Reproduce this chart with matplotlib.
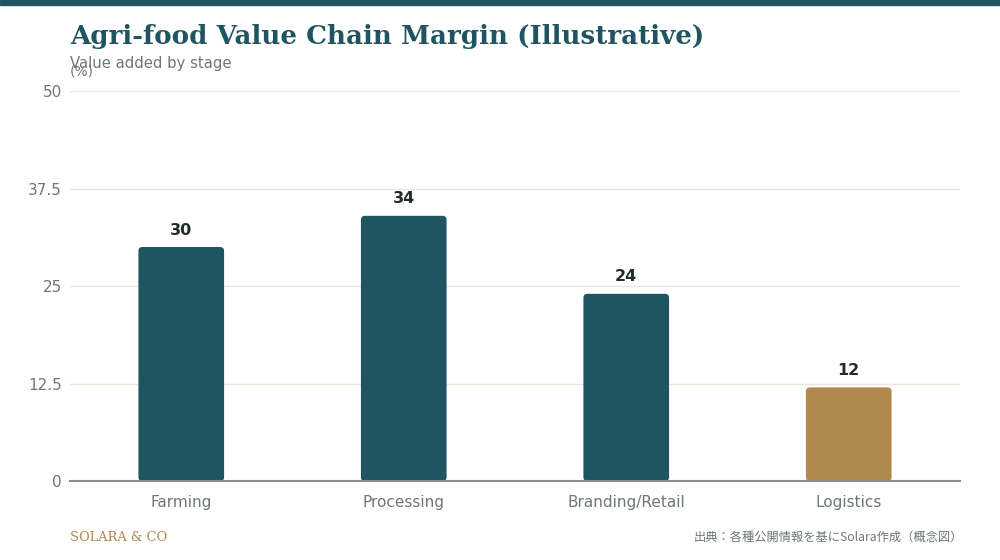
import matplotlib
matplotlib.use("Agg")
import matplotlib.pyplot as plt
from matplotlib.patches import FancyBboxPatch, Rectangle

# data
stages = ["Farming", "Processing", "Branding/Retail", "Logistics"]
margin = [30, 34, 24, 12]
bar_colors = ["#1f5561", "#1f5561", "#1f5561", "#b0894e"]
yticks = [0, 12.5, 25, 37.5, 50]
ytick_labels = ["0", "12.5", "25", "37.5", "50"]

plt.rcParams["font.family"] = ["DejaVu Sans"]

fig = plt.figure(figsize=(10, 5.6), dpi=100)
ax = fig.add_axes([0.07, 0.141, 0.89, 0.6965])

# top band
fig.patches.append(Rectangle((0, 0.991), 1, 0.009, transform=fig.transFigure,
                             color="#1f5561", zorder=0))

xs = list(range(len(stages)))
width = 0.385
bars = ax.bar(xs, margin, width=width, color=bar_colors)

ax.set_xlim(-0.5, len(stages) - 0.5)
ax.set_ylim(0, 50)

# swap plain bars for rounded ones
x_per_px = (len(stages)) / 890.0
y_per_px = 50 / 390.0
for b in bars:
    x0, y0 = b.get_x(), b.get_y()
    w, h = b.get_width(), b.get_height()
    b.set_visible(False)
    p = FancyBboxPatch((x0, y0), w, h,
                       boxstyle="round,pad=0,rounding_size=%f" % (4 * x_per_px),
                       mutation_aspect=y_per_px / x_per_px,
                       facecolor=b.get_facecolor(), edgecolor="none", zorder=3)
    ax.add_patch(p)

for x, v in zip(xs, margin):
    ax.text(x, v + 1.2, str(v), ha="center", va="bottom", fontsize=11.5,
            fontweight="bold", color="#1f2d2a", zorder=4)

ax.set_yticks(yticks)
ax.set_yticklabels(ytick_labels)
ax.set_xticks(xs)
ax.set_xticklabels(stages)
ax.tick_params(axis="both", length=0, labelsize=11, colors="#6e7872")
ax.tick_params(axis="x", pad=10)
ax.tick_params(axis="y", pad=6)
ax.grid(axis="y", color="#ece6dc", linewidth=1)
ax.set_axisbelow(True)
for s in ["top", "right", "left"]:
    ax.spines[s].set_visible(False)
ax.spines["bottom"].set_color("#8a918a")
ax.spines["bottom"].set_linewidth(1.5)
ax.spines["bottom"].set_zorder(5)

fig.text(0.07, 0.935, "Agri-food Value Chain Margin (Illustrative)",
         family="DejaVu Serif", fontweight="bold", fontsize=18.8,
         color="#1f5561", ha="left", va="center")
fig.text(0.07, 0.887, "Value added by stage", fontsize=10.7, color="#6e7872",
         ha="left", va="center")
fig.text(0.07, 0.872, "(%)", fontsize=10, color="#6e7872", ha="left", va="center")

fig.text(0.07, 0.04, "SOLARA & CO", family="DejaVu Serif", fontsize=9.4,
         color="#b0894e", ha="left", va="center")
fig.text(0.963, 0.04, "出典：各種公開情報を基にSolara作成（概念図）",
         family=["Noto Sans CJK JP", "DejaVu Sans"], fontsize=8.8,
         color="#6e7872", ha="right", va="center")

fig.savefig("out.png", dpi=100)
